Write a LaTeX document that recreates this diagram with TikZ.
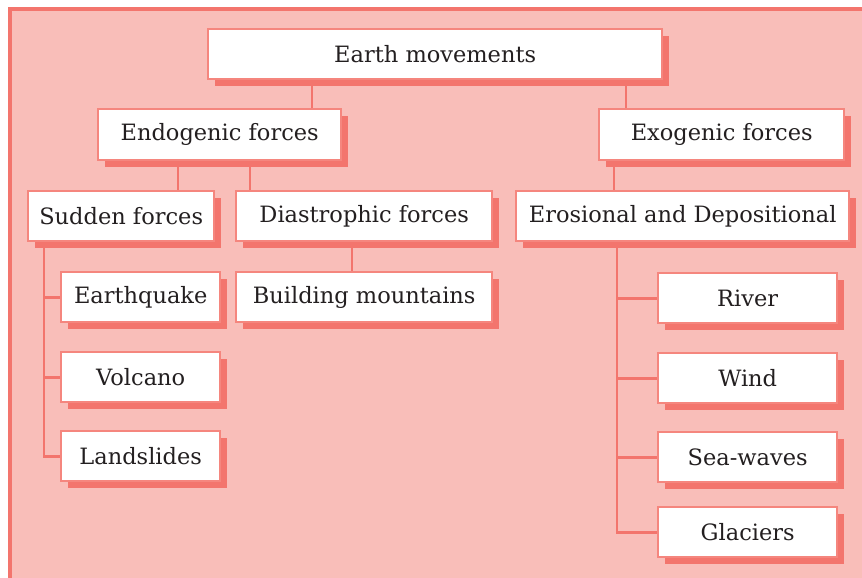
\documentclass[tikz,border=0pt]{standalone}
\usepackage{fontspec}
\setmainfont{DejaVu Serif}
\usetikzlibrary{shadows}
\definecolor{bgpink}{HTML}{F9BEB9}
\definecolor{salmon}{HTML}{F3756D}
\definecolor{edge}{HTML}{F5867E}
\definecolor{ink}{HTML}{231F20}
\begin{document}
\begin{tikzpicture}[x=1pt,y=-1pt,
  box/.style={draw=edge, line width=2.4pt, fill=white, anchor=north west,
    inner sep=0pt, text=ink, font=\fontsize{22.5}{26}\selectfont,
    drop shadow={shadow xshift=7pt, shadow yshift=-7pt, fill=salmon, opacity=1}},
  link/.style={draw=salmon, line width=2.8pt}]
\useasboundingbox (0,0) rectangle (862,578);
\fill[bgpink] (8,7) rectangle (862,578);
\draw[salmon, line width=4pt] (10,578) -- (10,9) -- (862,9);
% boxes
\node[box, minimum width=454pt, minimum height=50pt] (em) at (207,28) {Earth movements};
\node[box, minimum width=243pt, minimum height=51pt] (endo) at (97,108) {Endogenic forces};
\node[box, minimum width=245pt, minimum height=51pt] (exo) at (598,108) {Exogenic forces};
\node[box, minimum width=186pt, minimum height=50pt] (sud) at (27,190) {Sudden forces};
\node[box, minimum width=256pt, minimum height=50pt] (dia) at (235,190) {Diastrophic forces};
\node[box, minimum width=333pt, minimum height=50pt] (ero) at (515,190) {Erosional and Depositional};
\node[box, minimum width=159pt, minimum height=50pt] (quake) at (60,271) {Earthquake};
\node[box, minimum width=256pt, minimum height=50pt] (bm) at (235,271) {Building mountains};
\node[box, minimum width=159pt, minimum height=50pt] (volc) at (60,351) {Volcano};
\node[box, minimum width=159pt, minimum height=50pt] (land) at (60,430) {Landslides};
\node[box, minimum width=179pt, minimum height=50pt] (river) at (657,272) {River};
\node[box, minimum width=179pt, minimum height=50pt] (wind) at (657,352) {Wind};
\node[box, minimum width=179pt, minimum height=50pt] (sea) at (657,431) {Sea-waves};
\node[box, minimum width=179pt, minimum height=50pt] (glac) at (657,506) {Glaciers};
% connector x positions
\coordinate (xa) at (312,0);
\coordinate (xb) at (626,0);
\coordinate (xc) at (178,0);
\coordinate (xd) at (250,0);
\coordinate (xe) at (614,0);
\coordinate (xf) at (352,0);
\coordinate (xs) at (44,0);
\coordinate (xr) at (617,0);
\draw[link] (em.south -| xa) -- (endo.north -| xa);
\draw[link] (em.south -| xb) -- (exo.north -| xb);
\draw[link] (endo.south -| xc) -- (sud.north -| xc);
\draw[link] (endo.south -| xd) -- (dia.north -| xd);
\draw[link] (exo.south -| xe) -- (ero.north -| xe);
\draw[link] (dia.south -| xf) -- (bm.north -| xf);
\draw[link] (sud.south -| xs) |- (land.west);
\draw[link] (xs |- quake.west) -- (quake.west);
\draw[link] (xs |- volc.west) -- (volc.west);
\draw[link] (ero.south -| xr) |- (glac.west);
\draw[link] (xr |- river.west) -- (river.west);
\draw[link] (xr |- wind.west) -- (wind.west);
\draw[link] (xr |- sea.west) -- (sea.west);
\end{tikzpicture}
\end{document}
